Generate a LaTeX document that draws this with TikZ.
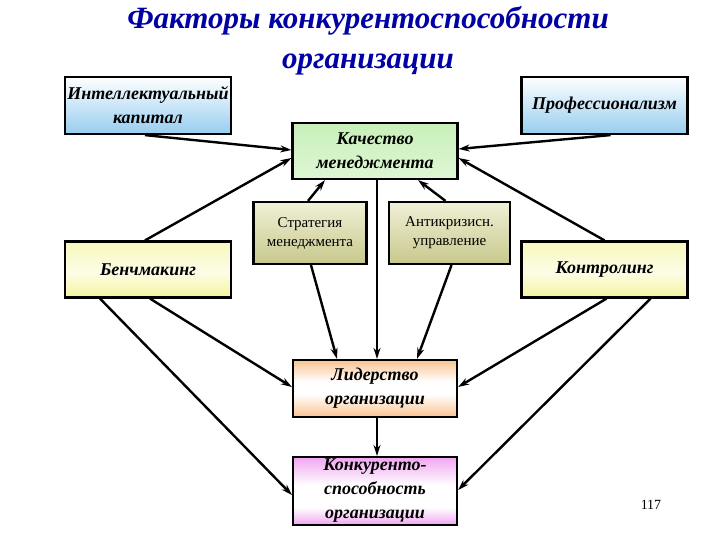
\documentclass[tikz,border=0pt]{standalone}
\usepackage{fontspec}
\setmainfont{Liberation Serif}
\usepackage{xcolor}
\usepackage{tikz}
\usetikzlibrary{arrows.meta,positioning,calc}

\definecolor{titleblue}{RGB}{0,0,165}
\definecolor{iceblue}{RGB}{150,205,240}
\definecolor{palegreen}{RGB}{200,240,185}
\definecolor{khaki}{RGB}{200,200,140}
\definecolor{khakitop}{RGB}{240,240,215}
\definecolor{lemon}{RGB}{245,245,160}
\definecolor{peach}{RGB}{250,195,145}
\definecolor{orchid}{RGB}{240,165,240}

% vertical fills of the boxes (box spans 25bp..75bp, bottom first)
\pgfdeclareverticalshading{iceband}{100bp}{color(0bp)=(iceblue); color(25bp)=(iceblue); color(75bp)=(white); color(100bp)=(white)}
\pgfdeclareverticalshading{greenband}{100bp}{color(0bp)=(palegreen!60); color(25bp)=(palegreen!60); color(75bp)=(palegreen); color(100bp)=(palegreen)}
\pgfdeclareverticalshading{khakiband}{100bp}{color(0bp)=(khaki); color(25bp)=(khaki); color(75bp)=(khakitop); color(100bp)=(khakitop)}
\pgfdeclareverticalshading{lemonband}{100bp}{color(0bp)=(lemon); color(25bp)=(lemon); color(48bp)=(lemon!25); color(75bp)=(lemon!70); color(100bp)=(lemon!70)}
\pgfdeclareverticalshading{peachband}{100bp}{color(0bp)=(peach); color(25bp)=(peach); color(45bp)=(white); color(56bp)=(white); color(75bp)=(peach); color(100bp)=(peach)}
\pgfdeclareverticalshading{orchidband}{100bp}{color(0bp)=(orchid); color(25bp)=(orchid); color(38bp)=(white); color(54bp)=(white); color(75bp)=(orchid); color(100bp)=(orchid)}

\begin{document}
\begin{tikzpicture}[x=1pt,y=1pt,>={Stealth[length=11pt,width=7pt]},
  factor/.style={draw=black,line width=2.2pt,align=center,inner sep=2pt,shade,
    font=\fontsize{18}{24}\selectfont\bfseries\itshape},
  plainbox/.style={draw=black,line width=2.2pt,align=center,inner sep=2pt,shade,shading=khakiband,
    font=\fontsize{15}{19}\selectfont},
  link/.style={line width=2.4pt,->}]
  \useasboundingbox (0,0) rectangle (720,-540);

  \node[titleblue,align=center,font=\fontsize{31}{40}\selectfont\bfseries\itshape] (title) at (368,-41)
    {Факторы конкурентоспособности\\ организации};

  \node[factor,minimum width=166,minimum height=57,shading=iceband] (ik) at (148,-105.5)
    {Интеллектуальный\\ капитал};
  \node[factor,minimum width=166,minimum height=57,shading=iceband] (pr) at (604.5,-105.5)
    {Профессионализм};
  \node[factor,minimum width=165,minimum height=56,shading=greenband] (km) at (375,-151)
    {Качество\\ менеджмента};
  \node[plainbox,minimum width=113,minimum height=62] (sm) at (310,-233)
    {Стратегия\\ менеджмента};
  \node[plainbox,minimum width=121,minimum height=62] (au) at (449.5,-233)
    {Антикризисн.\\ управление};
  \node[factor,minimum width=166,minimum height=56,shading=lemonband] (bm) at (148,-269.5)
    {Бенчмакинг};
  \node[factor,minimum width=166,minimum height=56,shading=lemonband] (ko) at (604.5,-269.5)
    {Контролинг};
  \node[factor,minimum width=164,minimum height=57,shading=peachband] (lo) at (375,-388.5)
    {Лидерство\\ организации};
  \node[factor,minimum width=164,minimum height=68,shading=orchidband] (ks) at (375,-491)
    {Конкуренто-\\ способность\\ организации};
  \node[font=\fontsize{14}{16}\selectfont] (page) at (651,-505) {117};

  % into quality of management
  \draw[link] ([xshift=-3pt]ik.south) -- ([yshift=1pt]km.west);
  \draw[link] ([xshift=6pt]pr.south) -- ([yshift=2pt]km.east);
  \draw[link] ([xshift=-3pt]bm.north) -- ([yshift=-7pt]km.west);
  \draw[link] (ko.north) -- ([yshift=-7pt]km.east);
  \draw[link] ([xshift=-2pt]sm.north) -- ([xshift=-50pt]km.south);
  \draw[link] ([xshift=-4pt]au.north) -- ([xshift=43pt]km.south);

  % into leadership
  \draw[link] ([xshift=2pt]km.south) -- ([xshift=2pt]lo.north);
  \draw[link] ([xshift=1pt]sm.south) -- ([xshift=-38pt]lo.north);
  \draw[link] ([xshift=2pt]au.south) -- ([xshift=42pt]lo.north);
  \draw[link] ([xshift=2pt]bm.south) -- ([yshift=1.5pt]lo.west);
  \draw[link] ([xshift=2pt]ko.south) -- ([yshift=1.5pt]lo.east);

  % into competitiveness
  \draw[link] ([xshift=2pt]lo.south) -- ([xshift=2pt]ks.north);
  \draw[link] ([xshift=-48pt]bm.south) -- ([yshift=-4pt]ks.west);
  \draw[link] ([xshift=46pt]ko.south) -- ([yshift=1pt]ks.east);
\end{tikzpicture}
\end{document}
